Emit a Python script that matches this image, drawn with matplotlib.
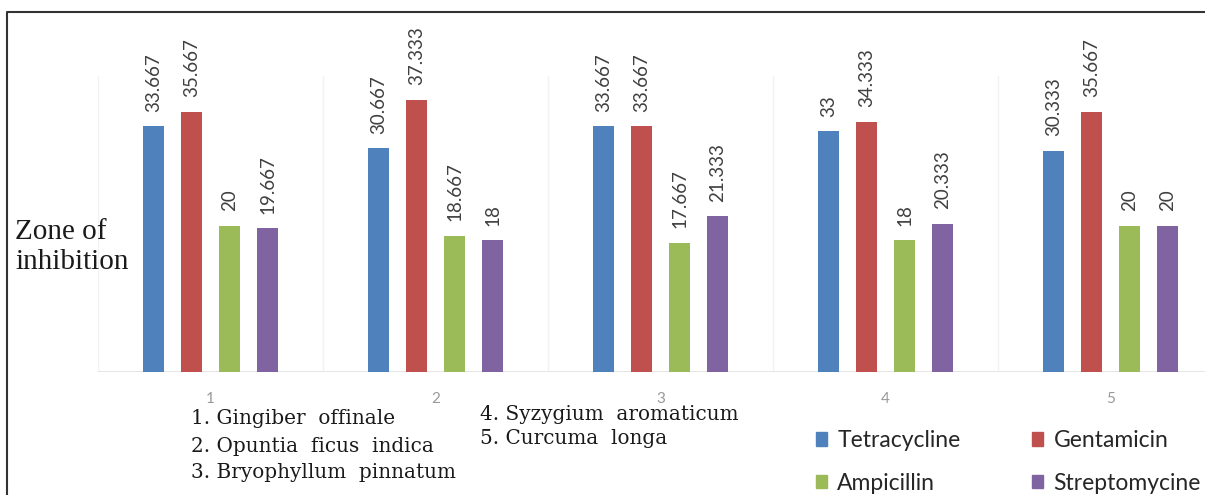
import matplotlib
matplotlib.use("Agg")
import matplotlib.pyplot as plt
from matplotlib.lines import Line2D
from matplotlib.patches import Patch
import numpy as np

categories = ["1", "2", "3", "4", "5"]
series_names = ["Tetracycline", "Gentamicin", "Ampicillin", "Streptomycine"]
tetracycline = [33.667, 30.667, 33.667, 33, 30.333]
gentamicin = [35.667, 37.333, 33.667, 34.333, 35.667]
ampicillin = [20, 18.667, 17.667, 18, 20]
streptomycine = [19.667, 18, 21.333, 20.333, 20]
species_left = ["1. Gingiber  offinale", "2. Opuntia  ficus  indica", "3. Bryophyllum  pinnatum"]
species_right = ["4. Syzygium  aromaticum", "5. Curcuma  longa"]
colors = ["#4F81BD", "#C0504D", "#9BBB59", "#8064A2"]

W, H = 1205, 495
fig = plt.figure(figsize=(W / 100, H / 100), dpi=100)
fig.patch.set_facecolor("white")

# axes: x from 98 to 1223 px, baseline y=371.5, top y=76
ax = fig.add_axes([98 / W, (H - 371.5) / H, 1125 / W, (371.5 - 76) / H])
ax.set_xlim(-0.5, 4.5)
ax.set_ylim(0, 40.6)

x = np.arange(len(categories))
offsets = [-0.2533, -0.0844, 0.0844, 0.2533]
bw = 0.089
all_series = [tetracycline, gentamicin, ampicillin, streptomycine]
for vals, off, col, name in zip(all_series, offsets, colors, series_names):
    ax.bar(x + off, vals, width=bw, color=col, label=name, zorder=3)
    for xi, v in zip(x + off, vals):
        ax.annotate(f"{v:g}", (xi, v), xytext=(0, 10.5), textcoords="offset points",
                    rotation=90, ha="center", va="bottom", fontsize=13.5,
                    family="Lato", color="#404040")

for b in np.arange(-0.5, 5.0, 1.0):
    ax.axvline(b, color="#f2f2f2", lw=1, zorder=0)
ax.axhline(0, color="#e0e0e0", lw=1.2, zorder=1)

for s in ax.spines.values():
    s.set_visible(False)
ax.set_yticks([])
ax.set_xticks(x)
ax.set_xticklabels(categories, fontsize=11, color="#999999", family="Lato")
ax.tick_params(axis="x", length=0, pad=15)

# frame lines
fig.add_artist(Line2D([7 / W, 7 / W, 1.0], [0, (H - 12) / H, (H - 12) / H],
                      color="#333333", lw=1.5, transform=fig.transFigure))

fig.text(15 / W, (H - 247) / H, "Zone of\ninhibition", family="Liberation Serif",
         fontsize=21, ha="left", va="center", linespacing=1.2, color="#1a1a1a")

left_y = [418, 446, 473]
right_y = [414, 439]
for t, yy in zip(species_left, left_y):
    fig.text(191 / W, (H - yy) / H, t, family="DejaVu Serif",
             fontsize=14.4, ha="left", va="center", color="#1a1a1a")
for t, yy in zip(species_right, right_y):
    fig.text(480 / W, (H - yy) / H, t, family="DejaVu Serif",
             fontsize=14.4, ha="left", va="center", color="#1a1a1a")

handles = [Patch(color=colors[0]), Patch(color=colors[2]), Patch(color=colors[1]), Patch(color=colors[3])]
labels = [series_names[0], series_names[2], series_names[1], series_names[3]]
leg = fig.legend(handles, labels, ncol=2, loc="center left",
                 bbox_to_anchor=(795 / W, (H - 462) / H), frameon=False,
                 prop={"family": "Lato", "size": 16.5}, handlelength=0.5, handleheight=0.5,
                 handletextpad=0.45, columnspacing=3.1, labelspacing=0.95, labelcolor="#262626")

fig.savefig("out.png", dpi=100, facecolor="white")
